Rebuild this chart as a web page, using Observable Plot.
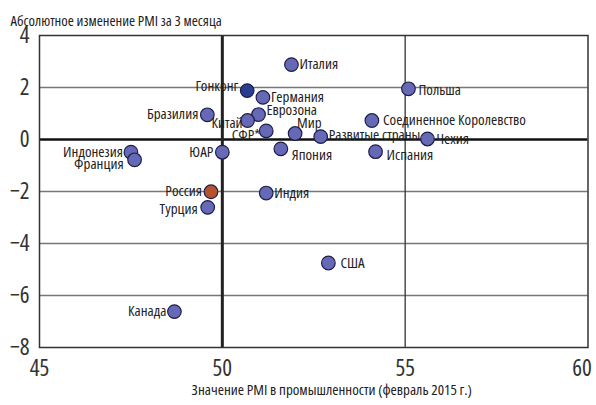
<!DOCTYPE html>
<html><head><meta charset="utf-8">
<script src="https://cdn.jsdelivr.net/npm/d3@7"></script>
<script src="https://cdn.jsdelivr.net/npm/@observablehq/plot@0.6"></script>
<style>
body{margin:0;background:#fff;}
#chart svg{display:block;}
#chart svg text{font-stretch:condensed;}
</style>
</head><body><div id="chart"></div>
<script>
const countries = ["Италия","Гонконг","Германия","Бразилия","Еврозона","Китай","СФР*","Мир","Развитые страны","ЮАР","Япония","Индонезия","Франция","Польша","Соединенное Королевство","Чехия","Испания","Россия","Турция","Индия","США","Канада"];
const pmi = [51.89,50.68,51.11,49.59,50.99,50.69,51.20,51.99,52.69,50.00,51.60,47.50,47.60,55.09,54.09,55.61,54.19,49.69,49.60,51.20,52.90,48.69];
const change3m = [2.88,1.88,1.62,0.95,0.96,0.73,0.33,0.23,0.11,-0.49,-0.36,-0.49,-0.78,1.95,0.73,0.02,-0.47,-2.01,-2.61,-2.06,-4.75,-6.62];
const highlight = {"Гонконг":"hk","Россия":"ru"};
const xTicks = [45,50,55,60];
const yTicks = [4,2,0,-2,-4,-6,-8];
const gridY = [2,-2,-4,-6];
const yTitle = "Абсолютное изменение PMI за 3 месяца";
const xTitle = "Значение PMI в промышленности (февраль 2015 г.)";

// label layout: [anchor, dx, dy]
const labelPlace = {
  "Италия":["start",8,0],"Гонконг":["end",-9,-4],"Германия":["start",8,0],
  "Бразилия":["end",-9,-1],"Еврозона":["start",8,-4],"Китай":["end",-5,3],
  "СФР*":["end",-6,4],"Мир":["start",2,-10],"Развитые страны":["start",8,-1],
  "ЮАР":["end",-9,0],"Япония":["start",11,6],"Индонезия":["end",-8,0],
  "Франция":["end",-11,4],"Польша":["start",10,1],"Соединенное Королевство":["start",11,0],
  "Чехия":["start",9,0],"Испания":["start",11,3],"Россия":["end",-9,-1],
  "Турция":["end",-10,2],"Индия":["start",8,0],"США":["start",12,0],"Канада":["end",-8,0]
};

const data = countries.map((c,i)=>({name:c, x:pmi[i], y:change3m[i], kind: highlight[c]||"base"}));

const fillFor = k => k==="hk" ? "#2b3d8f" : k==="ru" ? "#b5532f" : "#6569b6";
const font = "'Open Sans','Roboto Condensed',sans-serif";

const labelMarks = data.map(d => {
  const [a,dx,dy] = labelPlace[d.name];
  return Plot.text([d], {x:"x", y:"y", text:"name", textAnchor:a, dx, dy, fontSize:15, fill:"#222"});
});

const chart = Plot.plot({
  width:596, height:405,
  marginLeft:39, marginRight:8.5, marginTop:35, marginBottom:58,
  style:{fontFamily:font, background:"#fff"},
  x:{domain:[45,60]},
  y:{domain:[-8,4]},
  marks:[
    Plot.ruleY(gridY,{stroke:"#777",strokeWidth:1.5}),
    Plot.ruleX([55],{stroke:"#333",strokeWidth:1.3}),
    Plot.ruleY([0],{stroke:"#111",strokeWidth:2.5}),
    Plot.ruleX([50],{stroke:"#222",strokeWidth:3}),
    Plot.frame({stroke:"#333",strokeWidth:1.5}),
    Plot.axisY({ticks:yTicks, tickSize:0, tickPadding:10, fontSize:23, label:null, fill:"#333"}),
    Plot.axisX({ticks:xTicks.slice(0,3), tickSize:0, tickPadding:12, fontSize:23, label:null, fill:"#333"}),
    Plot.axisX({ticks:xTicks.slice(3), tickSize:0, tickPadding:12, fontSize:23, label:null, fill:"#333", dx:-6}),
    Plot.dot(data,{x:"x",y:"y",r:6.8,fill:d=>fillFor(d.kind),stroke:"#1d1f4a",strokeWidth:1.2}),
    ...labelMarks,
    Plot.text([yTitle],{frameAnchor:"top-left", dx:-29, dy:-19.5, textAnchor:"start", fontSize:14.7, fill:"#222"}),
    Plot.text([xTitle],{frameAnchor:"bottom", dx:18, dy:47, fontSize:15, fill:"#222"})
  ]
});
document.getElementById("chart").append(chart);
</script>
</body></html>
